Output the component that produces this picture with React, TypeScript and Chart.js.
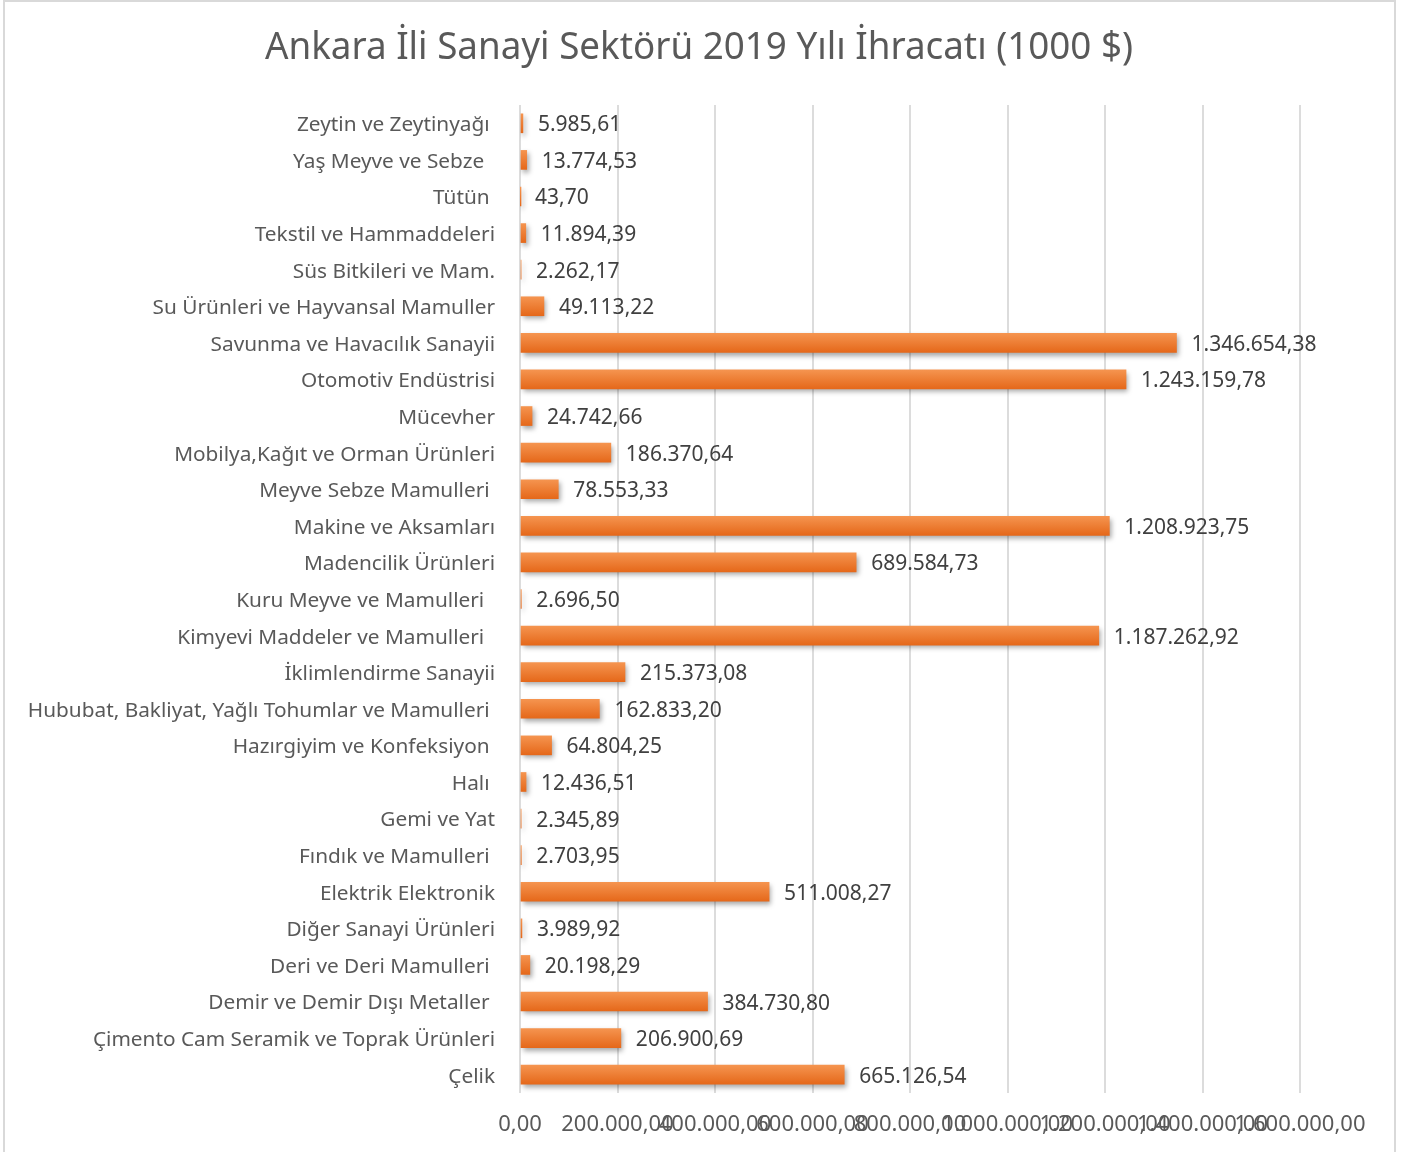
import React, { useEffect, useRef } from "react";
import { Chart, registerables } from "chart.js";

Chart.register(...registerables);

const TITLE = "Ankara İli Sanayi Sektörü 2019 Yılı İhracatı (1000 $)";

const categories: string[] = [
  "Zeytin ve Zeytinyağı ",
  "Yaş Meyve ve Sebze  ",
  "Tütün ",
  "Tekstil ve Hammaddeleri",
  "Süs Bitkileri ve Mam.",
  "Su Ürünleri ve Hayvansal Mamuller",
  "Savunma ve Havacılık Sanayii",
  "Otomotiv Endüstrisi",
  "Mücevher",
  "Mobilya,Kağıt ve Orman Ürünleri",
  "Meyve Sebze Mamulleri ",
  "Makine ve Aksamları",
  "Madencilik Ürünleri",
  "Kuru Meyve ve Mamulleri  ",
  "Kimyevi Maddeler ve Mamulleri  ",
  "İklimlendirme Sanayii",
  "Hububat, Bakliyat, Yağlı Tohumlar ve Mamulleri ",
  "Hazırgiyim ve Konfeksiyon ",
  "Halı ",
  "Gemi ve Yat",
  "Fındık ve Mamulleri ",
  "Elektrik Elektronik",
  "Diğer Sanayi Ürünleri",
  "Deri ve Deri Mamulleri ",
  "Demir ve Demir Dışı Metaller ",
  "Çimento Cam Seramik ve Toprak Ürünleri",
  "Çelik",
];

const exportValues: number[] = [
  5985.61, 13774.53, 43.7, 11894.39, 2262.17, 49113.22, 1346654.38,
  1243159.78, 24742.66, 186370.64, 78553.33, 1208923.75, 689584.73, 2696.5,
  1187262.92, 215373.08, 162833.2, 64804.25, 12436.51, 2345.89, 2703.95,
  511008.27, 3989.92, 20198.29, 384730.8, 206900.69, 665126.54,
];

const axisMin = 0;
const axisMax = 1600000;
const axisStep = 200000;

function fmt(v: number): string {
  const [i, d] = v.toFixed(2).split(".");
  return i.replace(/\B(?=(\d{3})+(?!\d))/g, ".") + "," + d;
}

const FONT = "'Noto Sans', 'Open Sans', sans-serif";

const shadowPlugin = {
  id: "barShadow",
  beforeDatasetDraw(chart: any) {
    const ctx = chart.ctx;
    ctx.save();
    ctx.shadowColor = "rgba(0,0,0,0.35)";
    ctx.shadowBlur = 5;
    ctx.shadowOffsetX = 2;
    ctx.shadowOffsetY = 3;
  },
  afterDatasetDraw(chart: any) {
    chart.ctx.restore();
  },
};

const labelPlugin = {
  id: "valueLabels",
  afterDatasetsDraw(chart: any) {
    const ctx = chart.ctx;
    const meta = chart.getDatasetMeta(0);
    ctx.save();
    ctx.font = `21px ${FONT}`;
    ctx.fillStyle = "#404040";
    ctx.textAlign = "left";
    ctx.textBaseline = "middle";
    meta.data.forEach((el: any, i: number) => {
      const v = chart.data.datasets[0].data[i] as number;
      ctx.fillText(fmt(v), el.x + 15, el.y + 2);
    });
    ctx.restore();
  },
};

const titlePlugin = {
  id: "condensedTitle",
  afterDraw(chart: any) {
    const ctx = chart.ctx;
    ctx.save();
    ctx.font = `39px ${FONT}`;
    ctx.fillStyle = "#595959";
    ctx.textAlign = "center";
    ctx.textBaseline = "middle";
    const w = ctx.measureText(TITLE).width;
    const target = 868;
    const sx = target / w;
    ctx.translate(chart.width / 2, 48);
    ctx.scale(sx, 1);
    ctx.fillText(TITLE, 0, 0);
    ctx.restore();
  },
};

export default function App() {
  const ref = useRef<HTMLCanvasElement | null>(null);
  useEffect(() => {
    if (!ref.current) return;
    const chart = new Chart(ref.current, {
      type: "bar",
      data: {
        labels: categories,
        datasets: [
          {
            data: exportValues,
            barThickness: 19,
            backgroundColor: (c: any) => {
              const ch = c.chart;
              const ys = ch.scales?.y;
              if (!ys || c.dataIndex === undefined) return "#ED7D31";
              const yc = ys.getPixelForValue(c.dataIndex);
              if (!Number.isFinite(yc)) return "#ED7D31";
              const g = ch.ctx.createLinearGradient(0, yc - 9.5, 0, yc + 9.5);
              g.addColorStop(0, "#F5944F");
              g.addColorStop(1, "#E5681A");
              return g;
            },
            borderWidth: 0,
          },
        ],
      },
      options: {
        indexAxis: "y",
        animation: false,
        responsive: false,
        maintainAspectRatio: false,
        layout: { padding: { top: 105, right: 94, left: 0, bottom: 0 } },
        plugins: {
          legend: { display: false },
          title: { display: false },
          tooltip: { enabled: false },
        },
        scales: {
          x: {
            type: "linear",
            min: axisMin,
            max: axisMax,
            afterFit: (s: any) => {
              s.height = 59;
            },
            ticks: {
              stepSize: axisStep,
              autoSkip: false,
              maxRotation: 0,
              minRotation: 0,
              padding: 19,
              color: "#595959",
              font: { family: FONT, size: 22 },
              callback: (v: any) => fmt(Number(v)),
            },
            grid: {
              color: "#dcdcdc",
              lineWidth: 2,
              drawTicks: false,
            },
            border: { display: false },
          },
          y: {
            type: "category",
            afterFit: (s: any) => {
              s.width = 516;
            },
            ticks: {
              padding: 25,
              labelOffset: 2,
              color: "#595959",
              font: { family: FONT, size: 20.8 },
              autoSkip: false,
            },
            grid: { display: false, drawTicks: false },
            border: { display: false },
          },
        },
      },
      plugins: [shadowPlugin, labelPlugin, titlePlugin],
    } as any);
    return () => chart.destroy();
  }, []);

  return (
    <div
      style={{
        position: "absolute",
        left: 0,
        top: 0,
        width: 1411,
        height: 1152,
        background: "#fff",
        overflow: "hidden",
      }}
    >
      <div
        style={{
          position: "absolute",
          left: 3,
          top: 0,
          width: 1393,
          height: 1170,
          border: "2px solid #d9d9d9",
          boxSizing: "border-box",
        }}
      />
      <canvas
        ref={ref}
        width={1390}
        height={1152}
        style={{ position: "absolute", left: 4, top: 0, width: 1390, height: 1152 }}
      />
    </div>
  );
}
